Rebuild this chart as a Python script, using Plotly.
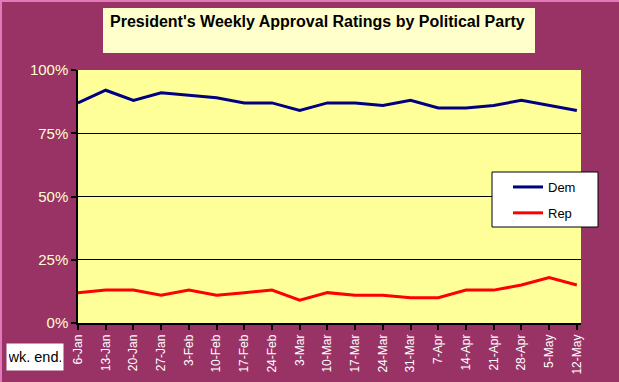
import plotly.graph_objects as go

weeks = ["6-Jan", "13-Jan", "20-Jan", "27-Jan", "3-Feb", "10-Feb", "17-Feb", "24-Feb",
         "3-Mar", "10-Mar", "17-Mar", "24-Mar", "31-Mar", "7-Apr", "14-Apr", "21-Apr",
         "28-Apr", "5-May", "12-May"]
dem = [0.87, 0.92, 0.88, 0.91, 0.90, 0.89, 0.87, 0.87, 0.84, 0.87, 0.87, 0.86, 0.88,
       0.85, 0.85, 0.86, 0.88, 0.86, 0.84]
rep = [0.12, 0.13, 0.13, 0.11, 0.13, 0.11, 0.12, 0.13, 0.09, 0.12, 0.11, 0.11, 0.10,
       0.10, 0.13, 0.13, 0.15, 0.18, 0.15]
y_ticks = [0, 0.25, 0.5, 0.75, 1.0]
title_text = "President's Weekly Approval Ratings by Political Party"

W, H = 619, 382
L, R, T, B = 78, 38, 70, 59
PW, PH = W - L - R, H - T - B


def px(x):
    return (x - L) / PW


def py(y):
    return (H - B - y) / PH


fig = go.Figure()
fig.add_trace(go.Scatter(x=weeks, y=dem, name="Dem", mode="lines",
                         line=dict(color="#000080", width=3), legendgroup="d"))
fig.add_trace(go.Scatter(x=weeks, y=rep, name="Rep", mode="lines",
                         line=dict(color="#FF0000", width=3), legendgroup="r"))

shapes = [
    # title box
    dict(type="rect", xref="paper", yref="paper", x0=px(103), x1=px(535), y0=py(53), y1=py(8),
         fillcolor="#FFFFCC", line=dict(width=0), layer="below"),
    # legend box
    dict(type="rect", xref="paper", yref="paper", x0=px(492), x1=px(598), y0=py(227), y1=py(172),
         fillcolor="white", line=dict(color="black", width=1), layer="above"),
    # window edge lines
    dict(type="line", xref="paper", yref="paper", x0=px(0), x1=px(W), y0=py(1), y1=py(1),
         line=dict(color="#E07AB8", width=2)),
    dict(type="line", xref="paper", yref="paper", x0=px(1), x1=px(1), y0=py(0), y1=py(H),
         line=dict(color="#E07AB8", width=2)),
]

annotations = [
    dict(text="<b>" + title_text + "</b>", xref="paper", yref="paper", x=px(317), y=py(22),
         xanchor="center", yanchor="middle", showarrow=False,
         font=dict(family="Arial, Liberation Sans", size=16, color="black")),
    dict(text="wk. end.", xref="paper", yref="paper", x=px(35), y=py(357),
         xanchor="center", yanchor="middle", showarrow=False, bgcolor="white",
         width=52, height=22, borderpad=2,
         font=dict(family="Arial, Liberation Sans", size=14.5, color="black")),
]

fig.update_layout(
    width=W, height=H,
    margin=dict(l=L, r=R, t=T, b=B, pad=0),
    paper_bgcolor="#993366",
    plot_bgcolor="#FFFF99",
    font=dict(family="Arial, Liberation Sans", size=12, color="white"),
    showlegend=True,
    legend=dict(x=px(508), y=py(172), xanchor="left", yanchor="top",
                bgcolor="rgba(0,0,0,0)", borderwidth=0,
                font=dict(family="Arial, Liberation Sans", size=13, color="black"),
                traceorder="grouped", tracegroupgap=6, itemwidth=30),
    shapes=shapes,
    annotations=annotations,
    xaxis=dict(type="category", range=[0, len(weeks) - 1 + 0.15], showgrid=False,
               showline=True, linecolor="black", linewidth=1.5, automargin=False,
               ticks="outside", ticklen=5, tickcolor="black", tickwidth=1.5,
               tickangle=-90, tickfont=dict(size=12, color="white"), zeroline=False),
    yaxis=dict(range=[0, 1], tickvals=y_ticks, tickformat=".0%", automargin=False,
               showgrid=True, gridcolor="black", gridwidth=1.2,
               showline=True, linecolor="black", linewidth=1.5,
               ticks="outside", ticklen=5, tickcolor="black", tickwidth=1.5,
               tickfont=dict(size=15, color="#FFFFCC"), zeroline=False),
)

fig.write_html("out.html", config={"displayModeBar": False},
               post_script="document.body.style.margin='0';")
